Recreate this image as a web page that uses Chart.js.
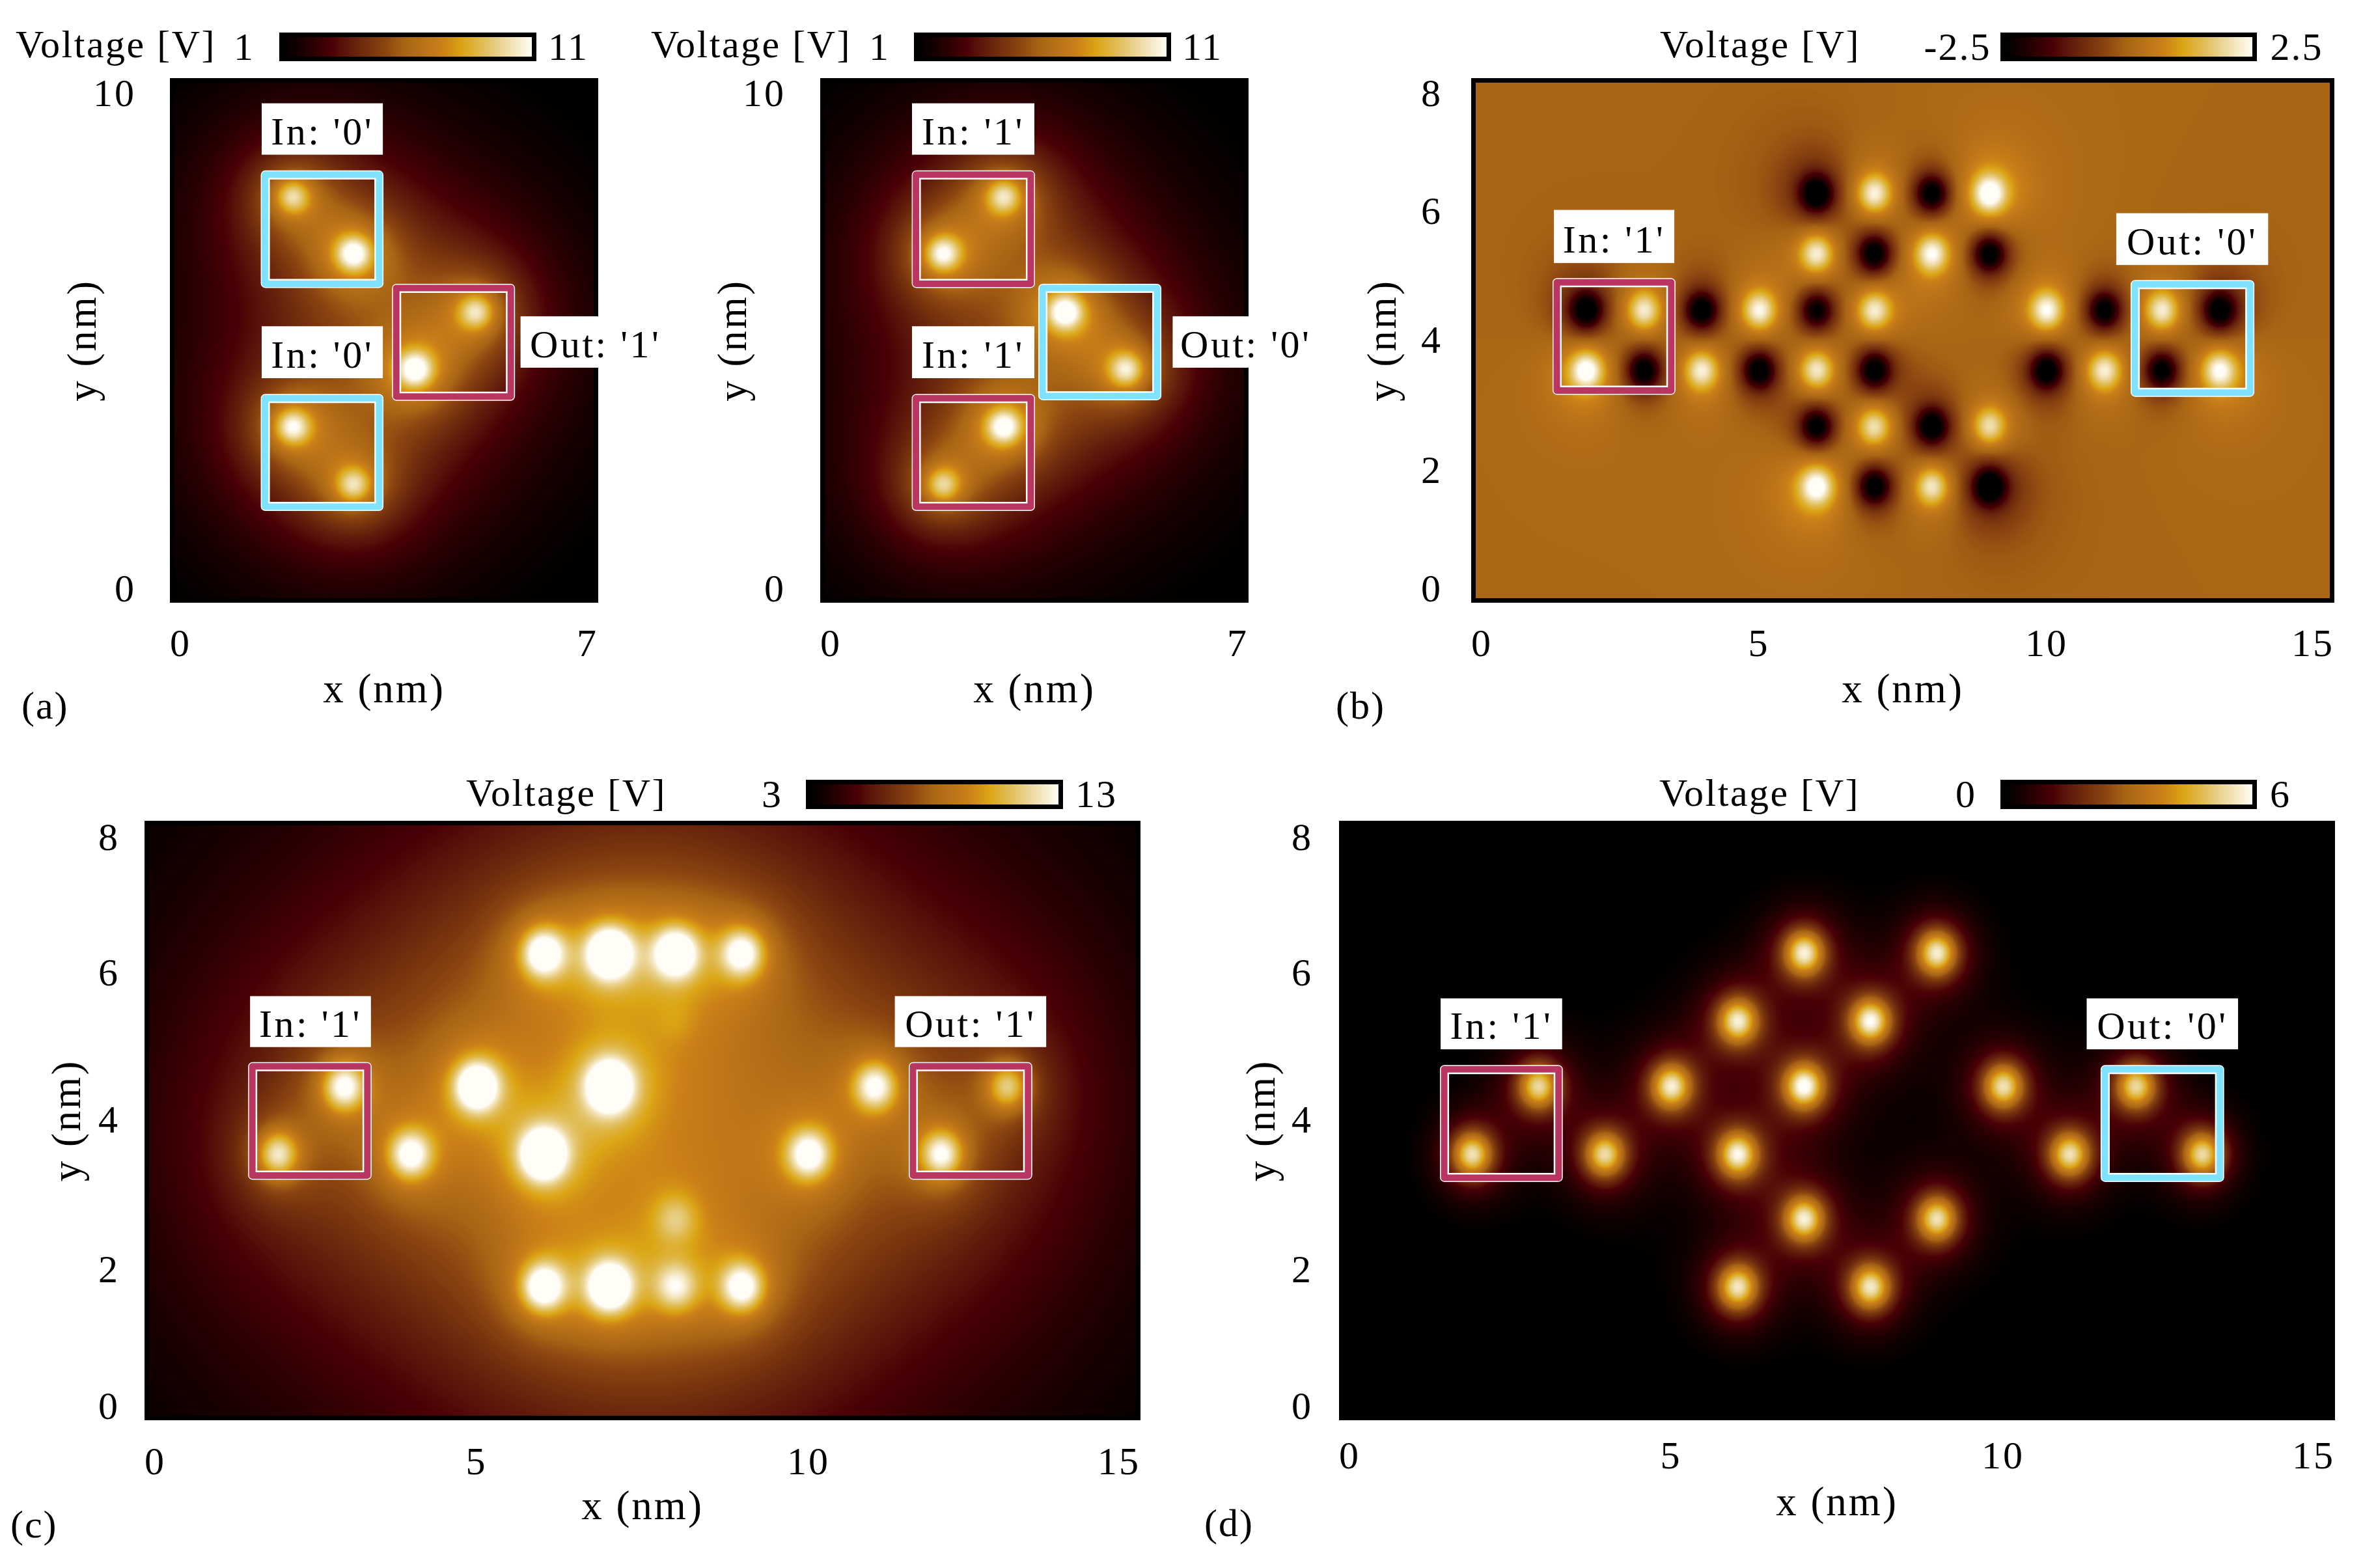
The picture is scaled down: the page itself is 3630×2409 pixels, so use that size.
<!DOCTYPE html>
<html>
<head>
<meta charset="utf-8">
<style>
  html, body { margin: 0; padding: 0; background: #fff; }
  body { position: relative; width: 3630px; height: 2409px; overflow: hidden; }
  canvas { position: absolute; }
</style>
<script src="https://cdn.jsdelivr.net/npm/chart.js@4/dist/chart.umd.min.js"></script>
</head>
<body>
<script>
// sites: x, y in nm, peak and halo in volts
const aSiteX = [2, 3, 2, 3, 5, 4];
const aSiteY = [7.75, 6.66, 3.36, 2.25, 5.55, 4.45];
const aPeak = [3.5, 4.3, 3.9, 3.4, 3.4, 4.3];
const aHalo = [3.0, 3.0, 3.0, 3.0, 3.0, 3.0];

const a2SiteX = [3, 2, 3, 2, 4, 5];
const a2SiteY = [7.75, 6.66, 3.36, 2.25, 5.55, 4.45];
const a2Peak = [3.5, 4.0, 4.2, 3.4, 4.3, 3.6];
const a2Halo = [3.0, 3.0, 3.0, 3.0, 3.0, 3.0];

const bSiteX = [6, 7, 8, 9, 6, 7, 8, 9, 2, 3, 4, 5, 6, 7, 10, 11, 12, 13, 2, 3, 4, 5, 6, 7, 10, 11, 12, 13, 6, 7, 8, 9, 6, 7, 8, 9];
const bSiteY = [6.24, 6.24, 6.24, 6.24, 5.33, 5.33, 5.33, 5.33, 4.46, 4.46, 4.46, 4.46, 4.46, 4.46, 4.46, 4.46, 4.46, 4.46, 3.55, 3.55, 3.55, 3.55, 3.55, 3.55, 3.55, 3.55, 3.55, 3.55, 2.69, 2.69, 2.69, 2.69, 1.78, 1.78, 1.78, 1.78];
const bPeak = [-2.2, 1.9, -2.2, 2.1, 1.9, -2.2, 1.9, -2.2, -2.2, 1.8, -2.2, 1.9, -2.0, 1.8, 1.9, -2.1, 1.8, -2.1, 2.1, -2.2, 1.8, -2.2, 1.8, -2.2, -2.2, 1.8, -2.1, 1.9, -2.2, 1.7, -2.2, 1.7, 2.0, -2.2, 1.8, -2.3];
const bHalo = [-0.55, 0.25, -0.25, 0.55, 0.25, -0.25, 0.25, -0.25, -0.55, 0.25, -0.25, 0.25, -0.25, 0.25, 0.25, -0.25, 0.25, -0.55, 0.55, -0.25, 0.25, -0.25, 0.25, -0.25, -0.25, 0.25, -0.25, 0.55, -0.25, 0.25, -0.25, 0.25, 0.55, -0.25, 0.25, -0.55];

const cSiteX = [6, 7, 8, 9, 8, 3, 5, 7, 11, 13, 2, 4, 6, 10, 12, 8, 6, 7, 8, 9];
const cSiteY = [6.24, 6.24, 6.24, 6.24, 5.33, 4.46, 4.46, 4.46, 4.46, 4.46, 3.55, 3.55, 3.55, 3.55, 3.55, 2.69, 1.78, 1.78, 1.78, 1.78];
const cPeak = [5.4, 7, 5.8, 4.8, 0.5, 5.0, 6.2, 6.8, 4.6, 4.2, 4.8, 4.8, 7, 4.8, 4.9, 1.8, 5.4, 6.4, 3.2, 4.8];
const cHalo = [0.85, 0.85, 0.85, 0.85, 0.85, 1.1, 0.85, 0.85, 0.85, 1.1, 1.1, 0.85, 0.85, 0.85, 1.1, 0.85, 0.85, 0.85, 0.85, 0.85];

const dSiteX = [7, 9, 6, 8, 3, 5, 7, 10, 12, 2, 4, 6, 11, 13, 7, 9, 6, 8];
const dSiteY = [6.24, 6.24, 5.33, 5.33, 4.46, 4.46, 4.46, 4.46, 4.46, 3.55, 3.55, 3.55, 3.55, 3.55, 2.69, 2.69, 1.78, 1.78];
const dPeak = [4.1, 4.1, 4.0, 4.2, 3.8, 4.0, 4.3, 3.9, 3.8, 4.0, 3.8, 4.1, 3.9, 3.9, 4.0, 3.9, 4.0, 4.0];
const dHalo = [0.42, 0.42, 0.42, 0.42, 0.42, 0.42, 0.42, 0.42, 0.42, 0.42, 0.42, 0.42, 0.42, 0.42, 0.42, 0.42, 0.42, 0.42];

// tick labels
const xTicksNarrow = [0, 7];
const yTicksNarrow = [0, 10];
const xTicksWide = [0, 5, 10, 15];
const yTicksWide = [0, 2, 4, 6, 8];

// colour scale, black through maroon and gold to white
const mapStops = [0, 0.07, 0.195, 0.23, 0.32, 0.41, 0.49, 0.58, 0.64, 0.72, 0.8, 0.89, 1];
const mapColors = ["#000000", "#180000", "#4a0005", "#56100a", "#702c0d", "#8c4510", "#a96515", "#bd7518", "#cb8018", "#dba514", "#e0bc55", "#edd9a0", "#fffdf5"];

const CRIMSON = "#b8365f";
const SKY = "#7fe3ff";
const FONT = '"Liberation Serif", serif';

const hexRgb = (h) => [1, 3, 5].map((i) => parseInt(h.slice(i, i + 2), 16));

const lut = [];
for (let i = 0; i < 256; i++) {
  const t = i / 255;
  let k = 0;
  while (k < mapStops.length - 2 && t > mapStops[k + 1]) k++;
  const f = (t - mapStops[k]) / (mapStops[k + 1] - mapStops[k]);
  const c0 = hexRgb(mapColors[k]);
  const c1 = hexRgb(mapColors[k + 1]);
  lut.push(c0.map((c, j) => c + (c1[j] - c) * f));
}

// the field is a narrow peak with a skirt plus a wide halo around every site
const drawField = (chart, p) => {
  const { ctx, chartArea: area } = chart;
  const w = Math.round(area.right - area.left);
  const h = Math.round(area.bottom - area.top);
  const sx = w / (chart.scales.x.max - chart.scales.x.min);
  const sy = h / (chart.scales.y.max - chart.scales.y.min) / p.aspect;
  const sites = chart.getDatasetMeta(0).data;
  const peak = chart.data.datasets[0].peak;
  const halo = chart.data.datasets[0].halo;
  const img = ctx.createImageData(w, h);
  const s2 = 2 * p.sigma * p.sigma;
  const k2 = s2 * 2.2 * 2.2;
  const h2 = p.haloWidth * p.haloWidth;
  for (let j = 0; j < h; j++) {
    for (let i = 0; i < w; i++) {
      let v = p.base;
      for (let k = 0; k < sites.length; k++) {
        const dx = (area.left + i - sites[k].x) / sx;
        const dy = (area.top + j - sites[k].y) / sy;
        const r2 = dx * dx + dy * dy;
        v += peak[k] * (Math.exp(-r2 / s2) + p.skirt * Math.exp(-r2 / k2)) + halo[k] / (1 + r2 / h2);
      }
      const t = (v - p.range[0]) / (p.range[1] - p.range[0]);
      const c = lut[Math.max(0, Math.min(255, Math.round(t * 255)))];
      const o = (j * w + i) * 4;
      img.data[o] = c[0];
      img.data[o + 1] = c[1];
      img.data[o + 2] = c[2];
      img.data[o + 3] = 255;
    }
  }
  ctx.putImageData(img, Math.round(area.left), Math.round(area.top));
  ctx.save();
  ctx.strokeStyle = "#000";
  ctx.lineWidth = 7;
  ctx.strokeRect(area.left + 3.5, area.top + 3.5, w - 7, h - 7);
  ctx.restore();
};

const drawBox = (ctx, x, y, w, h, color) => {
  ctx.lineJoin = "round";
  ctx.strokeStyle = "#fff";
  ctx.lineWidth = 14;
  ctx.strokeRect(x + 7, y + 7, w - 14, h - 14);
  ctx.strokeStyle = color;
  ctx.lineWidth = 10;
  ctx.strokeRect(x + 6.5, y + 6.5, w - 13, h - 13);
};

const drawColorbar = (ctx, p, fx, fy) => {
  const [l, t, r, b] = p.bar;
  const g = ctx.createLinearGradient(l - fx + 7, 0, r - fx - 7, 0);
  mapStops.forEach((s, i) => g.addColorStop(s, mapColors[i]));
  ctx.fillStyle = "#000";
  ctx.fillRect(l - fx, t - fy, r - l, b - t);
  ctx.fillStyle = g;
  ctx.fillRect(l - fx + 7, t - fy + 7, r - l - 14, b - t - 14);
};

const overlay = (p) => ({
  id: "overlay",
  beforeDraw(chart) {
    const ctx = chart.ctx;
    ctx.letterSpacing = "3px";
    // the end labels of the y axis sit inside the plot height
    chart.scales.y.getLabelItems().forEach((item, i) => {
      if (item.nudged) return;
      item.options.translation[1] += p.yNudge[i];
      item.nudged = true;
    });
  },
  beforeDatasetsDraw(chart) {
    drawField(chart, p);
  },
  afterDraw(chart) {
    const { ctx, scales } = chart;
    const fx = p.frame[0];
    const fy = p.frame[1];
    ctx.save();
    ctx.textBaseline = "alphabetic";
    ctx.font = `60px ${FONT}`;

    p.boxes.forEach(([x0, x1, y0, y1, color]) => {
      const l = scales.x.getPixelForValue(x0);
      const r = scales.x.getPixelForValue(x1);
      const t = scales.y.getPixelForValue(y1);
      const b = scales.y.getPixelForValue(y0);
      drawBox(ctx, l, t, r - l, b - t, color);
    });

    p.notes.forEach(([text, x0, x1, y0, y1]) => {
      const l = scales.x.getPixelForValue(x0);
      const r = scales.x.getPixelForValue(x1);
      const t = scales.y.getPixelForValue(y1);
      const b = scales.y.getPixelForValue(y0);
      ctx.fillStyle = "#fff";
      ctx.fillRect(l, t, r - l, b - t);
      ctx.fillStyle = "#000";
      ctx.textAlign = "center";
      ctx.letterSpacing = "3.5px";
      ctx.fillText(text, (l + r) / 2, b - 16);
    });

    drawColorbar(ctx, p, fx, fy);
    ctx.fillStyle = "#000";
    ctx.letterSpacing = "2.5px";
    ctx.textAlign = "left";
    ctx.fillText("Voltage [V]", p.voltageX - fx, p.voltageY - fy);
    ctx.letterSpacing = "2px";
    ctx.textAlign = "center";
    ctx.fillText(p.lowLabel[0], p.lowLabel[1] - fx, p.barTextY - fy);
    ctx.fillText(p.highLabel[0], p.highLabel[1] - fx, p.barTextY - fy);
    if (p.letter) {
      ctx.textAlign = "left";
      ctx.fillText(p.letter[0], p.letter[1] - fx, p.letter[2] - fy);
    }
    ctx.restore();
  },
});

const makePanel = (p) => {
  const [fx, fy, fw, fh] = p.frame;
  const [l, t, r, b] = p.plot;
  const canvas = document.createElement("canvas");
  canvas.width = fw;
  canvas.height = fh;
  canvas.style.left = fx + "px";
  canvas.style.top = fy + "px";
  canvas.style.width = fw + "px";
  canvas.style.height = fh + "px";
  document.body.appendChild(canvas);

  const leftEdge = p.yTitleX - 31;
  const lowEdge = p.xTitleY + 31;
  const tickFont = { family: FONT, size: 60, lineHeight: 1 };
  const titleFont = { family: FONT, size: 63, lineHeight: 1 };

  new Chart(canvas.getContext("2d"), {
    type: "scatter",
    data: {
      datasets: [
        {
          data: p.siteX.map((x, i) => ({ x, y: p.siteY[i] })),
          peak: p.peak,
          halo: p.halo,
          pointRadius: 0,
          showLine: false,
        },
      ],
    },
    options: {
      responsive: false,
      animation: false,
      events: [],
      devicePixelRatio: 1,
      layout: {
        padding: {
          left: leftEdge - fx,
          top: t - fy,
          right: fx + fw - r,
          bottom: fy + fh - lowEdge,
        },
      },
      plugins: {
        legend: { display: false },
        tooltip: { enabled: false },
      },
      scales: {
        x: {
          type: "linear",
          min: 0,
          max: p.xTicks[p.xTicks.length - 1],
          afterBuildTicks: (s) => { s.ticks = p.xTicks.map((value) => ({ value })); },
          afterFit: (s) => { s.height = lowEdge - b; },
          grid: { display: false, drawTicks: false },
          border: { display: false },
          ticks: {
            align: "inner",
            maxRotation: 0,
            autoSkip: false,
            padding: p.xTickPad,
            color: "#000",
            font: tickFont,
            callback: (v) => String(v),
          },
          title: { display: true, text: "x (nm)", color: "#000", padding: 0, font: titleFont },
        },
        y: {
          type: "linear",
          min: 0,
          max: p.yTicks[p.yTicks.length - 1],
          afterBuildTicks: (s) => { s.ticks = p.yTicks.map((value) => ({ value })); },
          afterFit: (s) => { s.width = l - leftEdge; },
          grid: { display: false, drawTicks: false },
          border: { display: false },
          ticks: {
            autoSkip: false,
            padding: p.yTickPad,
            color: "#000",
            font: tickFont,
            callback: (v) => String(v),
          },
          title: { display: true, text: "y (nm)", color: "#000", padding: 0, font: titleFont },
        },
      },
    },
    plugins: [overlay(p)],
  });
};

makePanel({
  frame: [0, 0, 1040, 1170],
  plot: [261, 120, 919, 926],
  bar: [429, 50, 824, 94],
  range: [1, 11],
  base: 0.15,
  sigma: 0.2,
  skirt: 0.38,
  haloWidth: 1.1,
  aspect: 0.86,
  siteX: aSiteX, siteY: aSiteY, peak: aPeak, halo: aHalo,
  xTicks: xTicksNarrow, yTicks: yTicksNarrow,
  yNudge: [-18, 27],
  xTickPad: 36, yTickPad: 52,
  yTitleX: 130, xTitleY: 1063,
  voltageX: 24, voltageY: 88, barTextY: 92,
  lowLabel: ["1", 375], highLabel: ["11", 873],
  letter: ["(a)", 33, 1104],
  boxes: [
    [1.485, 3.49, 6.0, 8.24, SKY],
    [1.485, 3.49, 1.75, 3.98, SKY],
    [3.63, 5.64, 3.85, 6.08, CRIMSON],
  ],
  notes: [
    ["In: '0'", 1.5, 3.48, 8.54, 9.52],
    ["In: '0'", 1.5, 3.48, 4.28, 5.27],
    ["Out: '1'", 5.73, 8.18, 4.48, 5.46],
  ],
});

makePanel({
  frame: [990, 0, 1050, 1170],
  plot: [1260, 120, 1918, 926],
  bar: [1404, 50, 1799, 94],
  range: [1, 11],
  base: 0.15,
  sigma: 0.2,
  skirt: 0.38,
  haloWidth: 1.1,
  aspect: 0.86,
  siteX: a2SiteX, siteY: a2SiteY, peak: a2Peak, halo: a2Halo,
  xTicks: xTicksNarrow, yTicks: yTicksNarrow,
  yNudge: [-18, 27],
  xTickPad: 36, yTickPad: 53,
  yTitleX: 1129, xTitleY: 1063,
  voltageX: 1000, voltageY: 88, barTextY: 92,
  lowLabel: ["1", 1351], highLabel: ["11", 1847],
  boxes: [
    [1.496, 3.51, 6.0, 8.24, CRIMSON],
    [1.496, 3.51, 1.75, 3.98, CRIMSON],
    [3.565, 5.575, 3.86, 6.08, SKY],
  ],
  notes: [
    ["In: '1'", 1.5, 3.5, 8.54, 9.52],
    ["In: '1'", 1.5, 3.5, 4.28, 5.27],
    ["Out: '0'", 5.76, 8.15, 4.48, 5.46],
  ],
});

makePanel({
  frame: [2040, 0, 1590, 1170],
  plot: [2260, 120, 3586, 926],
  bar: [3073, 50, 3467, 94],
  range: [-2.5, 2.5],
  base: 0,
  sigma: 0.2,
  skirt: 0.38,
  haloWidth: 1.2,
  aspect: 1,
  siteX: bSiteX, siteY: bSiteY, peak: bPeak, halo: bHalo,
  xTicks: xTicksWide, yTicks: yTicksWide,
  yNudge: [-18, 2, 3, 7, 27],
  xTickPad: 36, yTickPad: 44,
  yTitleX: 2127, xTitleY: 1063,
  voltageX: 2550, voltageY: 88, barTextY: 92,
  lowLabel: ["-2.5", 3007], highLabel: ["2.5", 3528],
  letter: ["(b)", 2052, 1104],
  boxes: [
    [1.414, 3.55, 3.17, 4.95, CRIMSON],
    [11.46, 13.61, 3.14, 4.92, SKY],
  ],
  notes: [
    ["In: '1'", 1.437, 3.53, 5.18, 5.99],
    ["Out: '0'", 11.21, 13.85, 5.15, 5.94],
  ],
});

makePanel({
  frame: [0, 1170, 1830, 1239],
  plot: [222, 1261, 1752, 2182],
  bar: [1238, 1198, 1633, 1243],
  range: [3, 13],
  base: 1.9,
  sigma: 0.22,
  skirt: 0.3,
  haloWidth: 2.2,
  aspect: 1,
  siteX: cSiteX, siteY: cSiteY, peak: cPeak, halo: cHalo,
  xTicks: xTicksWide, yTicks: yTicksWide,
  yNudge: [-18, 2, 3, 7, 29],
  xTickPad: 37, yTickPad: 38,
  yTitleX: 106, xTitleY: 2318,
  voltageX: 716, voltageY: 1238, barTextY: 1240,
  lowLabel: ["3", 1186], highLabel: ["13", 1684],
  letter: ["(c)", 16, 2362],
  boxes: [
    [1.56, 3.42, 3.21, 4.78, CRIMSON],
    [11.51, 13.37, 3.21, 4.78, CRIMSON],
  ],
  notes: [
    ["In: '1'", 1.59, 3.41, 4.98, 5.66],
    ["Out: '1'", 11.3, 13.58, 4.98, 5.66],
  ],
});

makePanel({
  frame: [1830, 1170, 1800, 1239],
  plot: [2057, 1261, 3587, 2182],
  bar: [3073, 1198, 3467, 1243],
  range: [0, 6],
  base: -0.3,
  sigma: 0.21,
  skirt: 0.3,
  haloWidth: 0.6,
  aspect: 1,
  siteX: dSiteX, siteY: dSiteY, peak: dPeak, halo: dHalo,
  xTicks: xTicksWide, yTicks: yTicksWide,
  yNudge: [-18, 2, 3, 7, 29],
  xTickPad: 28, yTickPad: 40,
  yTitleX: 1941, xTitleY: 2312,
  voltageX: 2549, voltageY: 1238, barTextY: 1240,
  lowLabel: ["0", 3020], highLabel: ["6", 3503],
  letter: ["(d)", 1850, 2360],
  boxes: [
    [1.52, 3.37, 3.18, 4.74, CRIMSON],
    [11.47, 13.33, 3.18, 4.74, SKY],
  ],
  notes: [
    ["In: '1'", 1.53, 3.36, 4.95, 5.63],
    ["Out: '0'", 11.26, 13.54, 4.95, 5.63],
  ],
});
</script>
</body>
</html>
